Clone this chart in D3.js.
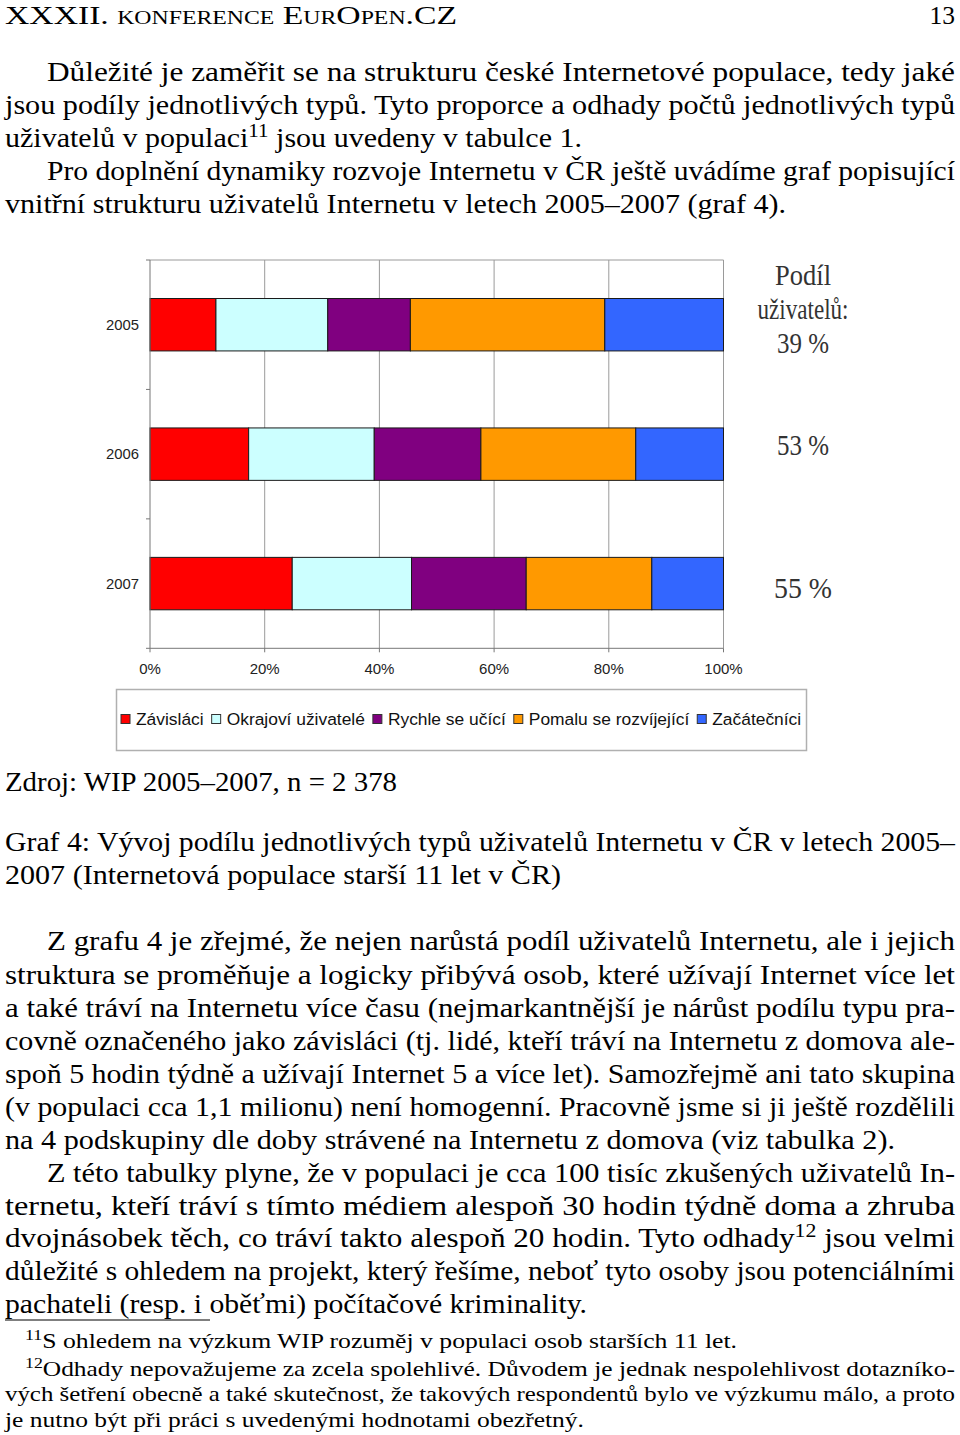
<!DOCTYPE html>
<meta charset="utf-8">
<script src="https://d3js.org/d3.v7.min.js"></script>
<style>
  body { margin: 0; background: #fff; }
  svg { display: block; }
  .page { font-family: "Liberation Serif", serif; fill: #000; }
  .chartfont { font-family: "Liberation Sans", Arial, sans-serif; }
</style>
<body>
<script>

// ---- chart data ----
const years = ["2005", "2006", "2007"];
const types = ["Závisláci", "Okrajoví uživatelé", "Rychle se učící", "Pomalu se rozvíjející", "Začátečníci"];
const zavislaci   = [11.5, 17.2, 24.8];
const okrajovi    = [19.5, 21.9, 20.8];
const rychle      = [14.4, 18.6, 20.0];
const pomalu      = [33.9, 27.0, 21.9];
const zacatecnici = [20.7, 15.3, 12.5];
const podil = ["39 %", "53 %", "55 %"];
const xTicks = [0, 20, 40, 60, 80, 100];
const colors = ["#ff0000", "#ccffff", "#800080", "#ff9900", "#3366ff"];

// ---- page text, one entry per printed line ----
// [x, baseline, text, right edge of the line]
const bodyLines = [
  [47, 81, "Důležité je zaměřit se na strukturu české Internetové populace, tedy jaké", 955],
  [5, 114, "jsou podíly jednotlivých typů. Tyto proporce a odhady počtů jednotlivých typů", 955],
  [5, 147, "uživatelů v populaci^11 jsou uvedeny v tabulce 1.", 582],
  [47, 180, "Pro doplnění dynamiky rozvoje Internetu v ČR ještě uvádíme graf popisující", 955],
  [5, 213, "vnitřní strukturu uživatelů Internetu v letech 2005–2007 (graf 4).", 786],
  [5, 791, "Zdroj: WIP 2005–2007, n = 2 378", 397],
  [5, 851, "Graf 4: Vývoj podílu jednotlivých typů uživatelů Internetu v ČR v letech 2005–", 955],
  [5, 884, "2007 (Internetová populace starší 11 let v ČR)", 561],
  [47, 950, "Z grafu 4 je zřejmé, že nejen narůstá podíl uživatelů Internetu, ale i jejich", 955],
  [5, 984, "struktura se proměňuje a logicky přibývá osob, které užívají Internet více let", 955],
  [5, 1017, "a také tráví na Internetu více času (nejmarkantnější je nárůst podílu typu pra-", 955],
  [5, 1050, "covně označeného jako závisláci (tj. lidé, kteří tráví na Internetu z domova ale-", 955],
  [5, 1083, "spoň 5 hodin týdně a užívají Internet 5 a více let). Samozřejmě ani tato skupina", 955],
  [5, 1116, "(v populaci cca 1,1 milionu) není homogenní. Pracovně jsme si ji ještě rozdělili", 955],
  [5, 1149, "na 4 podskupiny dle doby strávené na Internetu z domova (viz tabulka 2).", 895],
  [47, 1182, "Z této tabulky plyne, že v populaci je cca 100 tisíc zkušených uživatelů In-", 955],
  [5, 1215, "ternetu, kteří tráví s tímto médiem alespoň 30 hodin týdně doma a zhruba", 955],
  [5, 1247, "dvojnásobek těch, co tráví takto alespoň 20 hodin. Tyto odhady^12 jsou velmi", 955],
  [5, 1280, "důležité s ohledem na projekt, který řešíme, neboť tyto osoby jsou potenciálními", 955],
  [5, 1313, "pachateli (resp. i oběťmi) počítačové kriminality.", 587]
];
const footLines = [
  [25, 1348, "^11S ohledem na výzkum WIP rozuměj v populaci osob starších 11 let.", 737],
  [25, 1376, "^12Odhady nepovažujeme za zcela spolehlivé. Důvodem je jednak nespolehlivost dotazníko-", 955],
  [5, 1401, "vých šetření obecně a také skutečnost, že takových respondentů bylo ve výzkumu málo, a proto", 955],
  [5, 1427, "je nutno být při práci s uvedenými hodnotami obezřetný.", 584]
];

const W = 960, H = 1435;
const svg = d3.select("body").append("svg")
    .attr("width", W)
    .attr("height", H)
    .attr("class", "page");

// header
svg.append("text")
    .attr("x", 5).attr("y", 23.5)
    .style("font-size", "25.5px")
    .style("font-variant", "small-caps")
    .attr("textLength", 452).attr("lengthAdjust", "spacingAndGlyphs")
    .text("XXXII. konference EurOpen.CZ");
svg.append("text")
    .attr("x", 955).attr("y", 23.5)
    .attr("text-anchor", "end")
    .style("font-size", "25.5px")
    .text("13");

// writes one line, "^NN" becomes a superscript
function addLine(line, size) {
  const [x, y, str, right] = line;
  const t = svg.append("text")
      .attr("x", x).attr("y", y)
      .style("font-size", size + "px")
      .attr("textLength", right - x)
      .attr("lengthAdjust", "spacingAndGlyphs");
  const parts = str.split(/\^(\d+)/);
  let raised = false;
  parts.forEach(function(p, i) {
    if (p === "") { return; }
    if (i % 2 === 1) {
      t.append("tspan").attr("dy", -size * 0.38).style("font-size", (size * 0.7) + "px").text(p);
      raised = true;
    } else {
      const ts = t.append("tspan").text(p);
      if (raised) { ts.attr("dy", size * 0.38); raised = false; }
    }
  });
}
bodyLines.forEach(l => addLine(l, 27));
footLines.forEach(l => addLine(l, 22));

// footnote rule
svg.append("line")
    .attr("x1", 5).attr("x2", 210)
    .attr("y1", 1320).attr("y2", 1320)
    .attr("stroke", "#000").attr("stroke-width", 1.2);

// ---- the chart ----
const plot = {left: 150, right: 723.5, top: 260, bottom: 648.3};

const x = d3.scaleLinear()
    .domain([0, 100])
    .range([plot.left, plot.right]);

const y = d3.scaleBand()
    .domain(years)
    .range([plot.top, plot.bottom])
    .paddingInner(0.595)
    .paddingOuter(0.2975);

const chart = svg.append("g").attr("class", "chartfont");

// gridlines
chart.append("g")
  .selectAll("line")
  .data(xTicks.slice(1))
  .join("line")
    .attr("x1", d => x(d)).attr("x2", d => x(d))
    .attr("y1", plot.top).attr("y2", plot.bottom)
    .attr("stroke", "#9a9a9a").attr("stroke-width", 1);
chart.append("line")
    .attr("x1", plot.left).attr("x2", plot.right)
    .attr("y1", plot.top).attr("y2", plot.top)
    .attr("stroke", "#9a9a9a");

// stacked bars
const table = years.map((yr, i) => ({
  year: yr,
  [types[0]]: zavislaci[i],
  [types[1]]: okrajovi[i],
  [types[2]]: rychle[i],
  [types[3]]: pomalu[i],
  [types[4]]: zacatecnici[i]
}));
const series = d3.stack().keys(types)(table);

chart.append("g")
  .selectAll("g")
  .data(series)
  .join("g")
    .attr("fill", (d, i) => colors[i])
  .selectAll("rect")
  .data(d => d)
  .join("rect")
    .attr("x", d => x(d[0]))
    .attr("width", d => x(d[1]) - x(d[0]))
    .attr("y", d => y(d.data.year))
    .attr("height", y.bandwidth())
    .attr("stroke", "#1a1a1a")
    .attr("stroke-width", 1);

// Y axis (category boundaries as ticks)
const yAxis = chart.append("g");
yAxis.append("line")
    .attr("x1", plot.left).attr("x2", plot.left)
    .attr("y1", plot.top).attr("y2", plot.bottom)
    .attr("stroke", "#777");
const bounds = d3.range(years.length + 1).map(i => plot.top + i * y.step());
yAxis.selectAll(".tk")
  .data(bounds)
  .join("line")
    .attr("x1", plot.left - 4).attr("x2", plot.left)
    .attr("y1", d => d).attr("y2", d => d)
    .attr("stroke", "#777");
yAxis.selectAll("text")
  .data(years)
  .join("text")
    .attr("x", plot.left - 11)
    .attr("y", d => y(d) + y.bandwidth() / 2)
    .attr("dy", "0.35em")
    .attr("text-anchor", "end")
    .style("font-size", "15px")
    .attr("fill", "#222")
    .attr("textLength", 33).attr("lengthAdjust", "spacingAndGlyphs")
    .text(d => d);

// X axis
const xAxis = chart.append("g");
xAxis.append("line")
    .attr("x1", plot.left).attr("x2", plot.right)
    .attr("y1", plot.bottom).attr("y2", plot.bottom)
    .attr("stroke", "#777");
xAxis.selectAll(".tk")
  .data(xTicks)
  .join("line")
    .attr("x1", d => x(d)).attr("x2", d => x(d))
    .attr("y1", plot.bottom).attr("y2", plot.bottom + 4)
    .attr("stroke", "#777");
xAxis.selectAll("text")
  .data(xTicks)
  .join("text")
    .attr("x", d => x(d))
    .attr("y", plot.bottom + 26)
    .attr("text-anchor", "middle")
    .style("font-size", "15px")
    .attr("fill", "#222")
    .text(d => d + "%");

// share of users, to the right of the bars
const podilOffsets = [28, 1, 14];
const note = svg.append("g")
    .style("font-family", "'Liberation Serif', serif")
    .attr("fill", "#333");
note.append("text")
    .attr("x", 803).attr("y", y(years[0]) + y.bandwidth() / 2 - 40)
    .attr("text-anchor", "middle")
    .style("font-size", "29px")
    .attr("textLength", 56).attr("lengthAdjust", "spacingAndGlyphs")
    .text("Podíl");
note.append("text")
    .attr("x", 803).attr("y", y(years[0]) + y.bandwidth() / 2 - 6)
    .attr("text-anchor", "middle")
    .style("font-size", "29px")
    .attr("textLength", 91).attr("lengthAdjust", "spacingAndGlyphs")
    .text("uživatelů:");
note.selectAll(".pd")
  .data(podil)
  .join("text")
    .attr("x", 803)
    .attr("y", (d, i) => y(years[i]) + y.bandwidth() / 2 + podilOffsets[i])
    .attr("text-anchor", "middle")
    .style("font-size", "29px")
    .attr("textLength", (d, i) => i === 2 ? 58 : 52)
    .attr("lengthAdjust", "spacingAndGlyphs")
    .text(d => d);

// legend
const legend = chart.append("g");
legend.append("rect")
    .attr("x", 116.5).attr("y", 689.5)
    .attr("width", 690).attr("height", 61)
    .attr("fill", "#fff")
    .attr("stroke", "#b0b0b0").attr("stroke-width", 1.5);
let lx = 121;
types.forEach(function(name, i) {
  legend.append("rect")
      .attr("x", lx).attr("y", 714.5)
      .attr("width", 9).attr("height", 9)
      .attr("fill", colors[i])
      .attr("stroke", "#333").attr("stroke-width", 1);
  const t = legend.append("text")
      .attr("x", lx + 15).attr("y", 725)
      .style("font-size", "17.4px")
      .attr("fill", "#111")
      .text(name);
  lx += 15 + t.node().getComputedTextLength() + 8;
});

</script>
</body>
